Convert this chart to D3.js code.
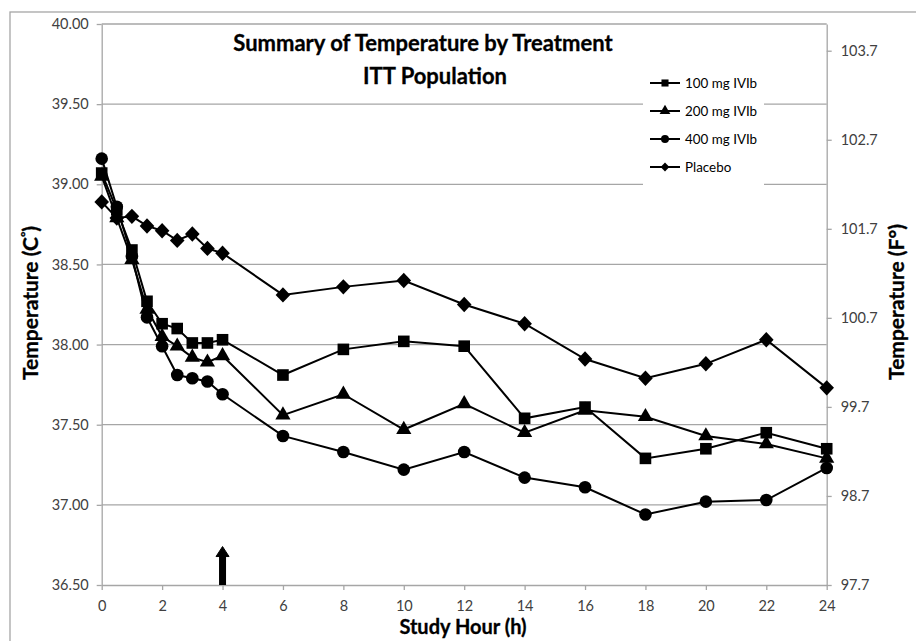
<!DOCTYPE html>
<meta charset="utf-8">
<style>
  body { margin: 0; background: #fff; }
  text { font-family: Lato, "Open Sans", sans-serif; }
  .grid line { stroke: #a6a6a6; stroke-width: 1.3px; }
  .axis path, .axis line { stroke: #a6a6a6; stroke-width: 1.3px; }
  .axis text { fill: #404040; font-size: 14.5px; }
  .series path { fill: none; stroke: #000; stroke-width: 2px; }
  .ttl { font-weight: bold; fill: #000; stroke: #000; stroke-width: 0.3px; }
</style>
<body>
<svg id="chart" width="916" height="641"></svg>
<script src="https://d3js.org/d3.v7.min.js"></script>
<script>

// study hours
var hours = [0, 0.5, 1, 1.5, 2, 2.5, 3, 3.5, 4, 6, 8, 10, 12, 14, 16, 18, 20, 22, 24];

// mean temperature (C) by treatment
var mg100 = [39.07, 38.84, 38.59, 38.27, 38.13, 38.10, 38.01, 38.01, 38.03, 37.81, 37.97, 38.02, 37.99, 37.54, 37.61, 37.29, 37.35, 37.45, 37.35];
var mg200 = [39.05, 38.79, 38.53, 38.22, 38.05, 37.99, 37.92, 37.89, 37.93, 37.56, 37.69, 37.47, 37.63, 37.45, 37.59, 37.55, 37.43, 37.38, 37.29];
var mg400 = [39.16, 38.86, 38.55, 38.17, 37.99, 37.81, 37.79, 37.77, 37.69, 37.43, 37.33, 37.22, 37.33, 37.17, 37.11, 36.94, 37.02, 37.03, 37.23];
var placebo = [38.89, 38.79, 38.80, 38.74, 38.71, 38.65, 38.69, 38.60, 38.57, 38.31, 38.36, 38.40, 38.25, 38.13, 37.91, 37.79, 37.88, 38.03, 37.73];

var seriesNames = ["100 mg IVIb", "200 mg IVIb", "400 mg IVIb", "Placebo"];

var xTicks = [0, 2, 4, 6, 8, 10, 12, 14, 16, 18, 20, 22, 24];
var cTicks = [36.5, 37, 37.5, 38, 38.5, 39, 39.5, 40];
var fTicks = [97.7, 98.7, 99.7, 100.7, 101.7, 102.7, 103.7];

// dosing arrow at hour 4
var arrowHour = 4;
var arrowTop = 36.74;

// excel-like diamond (square turned 45 deg)
var symbolRhomb = {
  draw: function(context, size) {
    var r = Math.sqrt(size) * 0.65;
    context.moveTo(0, -r);
    context.lineTo(r * 0.95, 0);
    context.lineTo(0, r);
    context.lineTo(-r * 0.95, 0);
    context.closePath();
  }
};
var seriesSymbols = [d3.symbolSquare, d3.symbolTriangle, d3.symbolCircle, symbolRhomb];
var symbolSizes = [135, 100, 125, 140];

const svg = d3.select("#chart");

const mLeft = 101.7, mRight = 826.7, mTop = 24, mBottom = 585;

const x = d3.scaleLinear().domain([0, 24]).range([mLeft, mRight]);
const y = d3.scaleLinear().domain([36.5, 40]).range([mBottom, mTop]);
const yF = d3.scaleLinear().domain([36.5 * 1.8 + 32, 40 * 1.8 + 32]).range([mBottom, mTop]);

// outer frame
svg.append("rect")
  .attr("x", 10).attr("y", 12)
  .attr("width", 930).attr("height", 660)
  .attr("fill", "none")
  .attr("stroke", "#a6a6a6")
  .attr("stroke-width", 1.3);

// gridlines
svg.append("g")
  .attr("class", "grid")
  .selectAll("line")
  .data(cTicks.slice(1))
  .enter().append("line")
  .attr("x1", mLeft).attr("x2", mRight)
  .attr("y1", d => y(d)).attr("y2", d => y(d));

// axes
svg.append("g")
  .attr("class", "axis")
  .attr("transform", `translate(${mLeft},0)`)
  .call(d3.axisLeft(y).tickValues(cTicks).tickFormat(d3.format(".2f")).tickSizeInner(5).tickSizeOuter(0).tickPadding(8));

svg.append("g")
  .attr("class", "axis")
  .attr("transform", `translate(${mRight},0)`)
  .call(d3.axisRight(yF).tickValues(fTicks).tickFormat(d3.format(".1f")).tickSizeInner(5).tickSizeOuter(0).tickPadding(9));

svg.append("g")
  .attr("class", "axis")
  .attr("transform", `translate(0,${mBottom})`)
  .call(d3.axisBottom(x).tickValues(xTicks).tickFormat(d3.format("d")).tickSizeInner(5).tickSizeOuter(0).tickPadding(11));

// series
var allSeries = [mg100, mg200, mg400, placebo];
var line = d3.line().x(d => x(d.h)).y(d => y(d.v));

allSeries.forEach(function(vals, i) {
  var pts = hours.map((h, j) => ({ h: h, v: vals[j] }));
  var g = svg.append("g").attr("class", "series");
  g.append("path").attr("d", line(pts));
  g.selectAll(".pt")
    .data(pts)
    .enter().append("path")
    .attr("class", "pt")
    .attr("transform", d => `translate(${x(d.h)},${y(d.v)})`)
    .attr("d", d3.symbol().type(seriesSymbols[i]).size(symbolSizes[i]))
    .style("fill", "#000")
    .style("stroke", "none");
});

// arrow
var ax = x(arrowHour);
svg.append("rect")
  .attr("x", ax - 3.5).attr("y", y(arrowTop) + 9)
  .attr("width", 7).attr("height", y(36.5) - y(arrowTop) - 9)
  .attr("fill", "#000");
svg.append("path")
  .attr("d", `M${ax - 6.5},${y(arrowTop) + 10}L${ax},${y(arrowTop)}L${ax + 6.5},${y(arrowTop) + 10}Z`)
  .attr("fill", "#000")
  .attr("stroke", "#000")
  .attr("stroke-width", 1);

// legend
var legend = svg.append("g").attr("transform", "translate(643,70)");
legend.append("rect")
  .attr("width", 121).attr("height", 118)
  .attr("fill", "#fff");
var items = legend.selectAll(".item")
  .data(seriesNames)
  .enter().append("g")
  .attr("transform", (d, i) => `translate(0,${13 + i * 28})`);
items.append("line")
  .attr("x1", 7).attr("x2", 37)
  .attr("stroke", "#000").attr("stroke-width", 2);
items.append("path")
  .attr("transform", "translate(22,0)")
  .attr("d", (d, i) => d3.symbol().type(seriesSymbols[i]).size(50)())
  .attr("fill", "#000");
items.append("text")
  .attr("x", 42).attr("dy", "0.35em")
  .style("font-size", "13.4px")
  .style("fill", "#000")
  .text(d => d);

// titles
svg.append("text")
  .attr("class", "ttl")
  .attr("x", 423).attr("y", 51)
  .attr("text-anchor", "middle")
  .style("font-size", "22px")
  .text("Summary of Temperature by Treatment");
svg.append("text")
  .attr("class", "ttl")
  .attr("x", 435).attr("y", 84)
  .attr("text-anchor", "middle")
  .style("font-size", "22px")
  .text("ITT Population");

svg.append("text")
  .attr("class", "ttl")
  .attr("x", 463).attr("y", 634)
  .attr("text-anchor", "middle")
  .style("font-size", "20px")
  .text("Study Hour (h)");

var yl = svg.append("text")
  .attr("class", "ttl")
  .attr("transform", "translate(38,303) rotate(-90)")
  .attr("text-anchor", "middle")
  .style("font-size", "21px");
yl.append("tspan").text("Temperature (C");
yl.append("tspan").attr("dy", -8).style("font-size", "13px").text("°");
yl.append("tspan").attr("dy", 8).text(")");

svg.append("text")
  .attr("class", "ttl")
  .attr("transform", "translate(904,302) rotate(-90)")
  .attr("text-anchor", "middle")
  .style("font-size", "21px")
  .text("Temperature (F°)");

</script>
</body>
